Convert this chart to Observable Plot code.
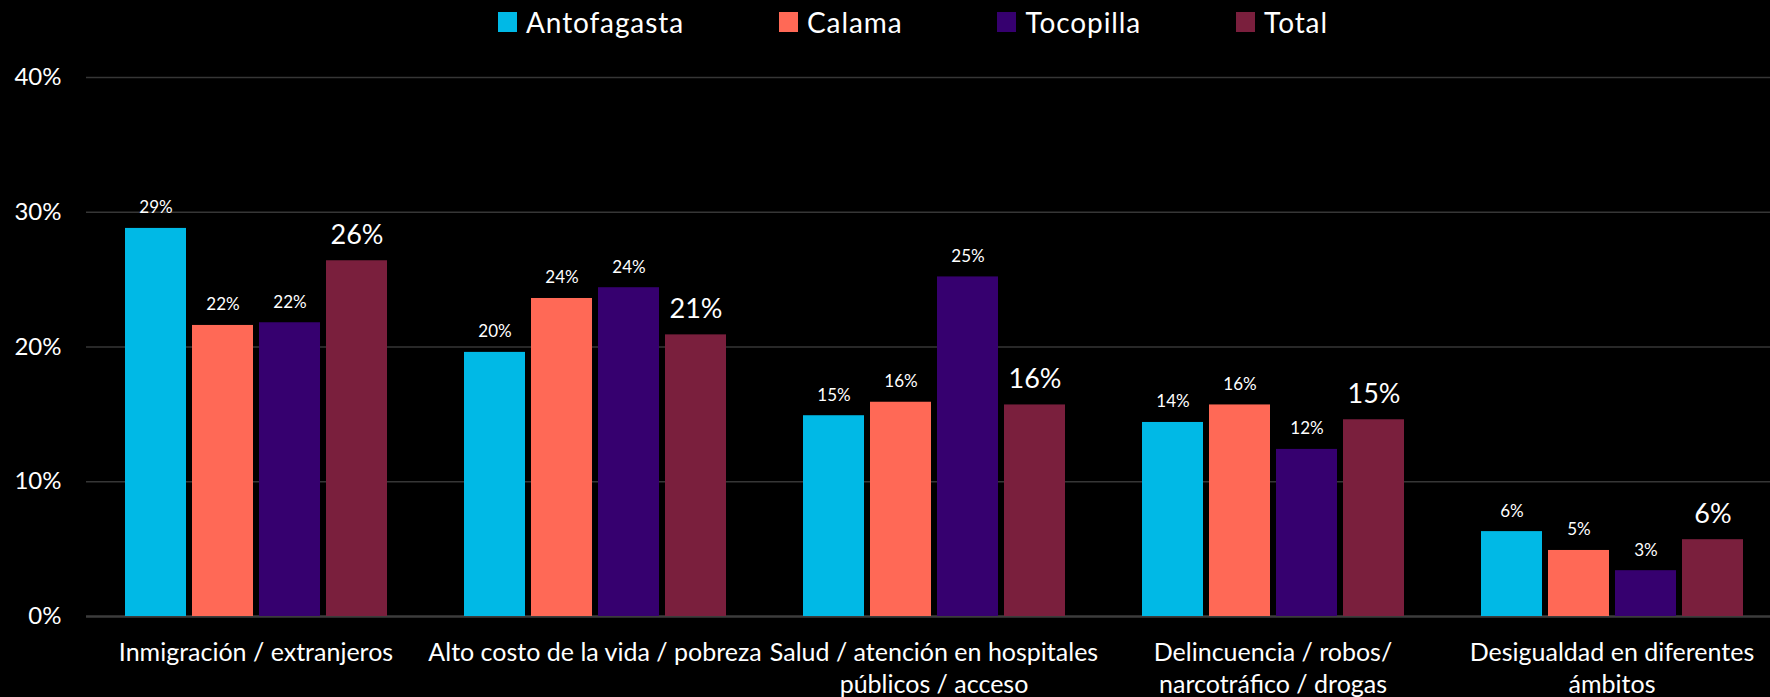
<!DOCTYPE html>
<html><head><meta charset="utf-8">
<script src="https://cdn.jsdelivr.net/npm/d3@7"></script>
<script src="https://cdn.jsdelivr.net/npm/@observablehq/plot@0.6"></script>
<style>
html,body{margin:0;padding:0;background:#000;width:1770px;height:697px;overflow:hidden;}
#legend{position:relative;height:50px;font-family:Lato, sans-serif;color:#fff;font-size:28px;letter-spacing:0.9px;}
#legend .row{position:absolute;left:498px;top:4px;display:flex;gap:95px;}
#legend .item{display:flex;align-items:center;line-height:36px;}
#legend .sw{width:19px;height:20px;margin-right:9px;}
#chart{width:1770px;overflow:hidden;}
#chart svg{max-width:none !important;}
</style></head>
<body><div id="legend"><div class="row"></div></div><div id="chart"></div>
<script>
const categories = ["Inmigración", "Alto costo", "Salud", "Delincuencia", "Desigualdad"];
const tickLabels = [
  "Inmigración / extranjeros",
  "Alto costo de la vida / pobreza",
  "Salud / atención en hospitales\npúblicos / acceso",
  "Delincuencia / robos/\nnarcotráfico / drogas",
  "Desigualdad en diferentes\námbitos"
];
const series = ["Antofagasta", "Calama", "Tocopilla", "Total"];
const colors = ["#00B9E6", "#FF6956", "#36006F", "#7A1F3D"];
const antofagasta = [28.8, 19.6, 14.9, 14.4, 6.3];
const calama      = [21.6, 23.6, 15.9, 15.7, 4.9];
const tocopilla   = [21.8, 24.4, 25.2, 12.4, 3.4];
const total       = [26.4, 20.9, 15.7, 14.6, 5.7];
const yTicks = [0, 10, 20, 30, 40];

const seriesValues = [antofagasta, calama, tocopilla, total];
const rows = [];
categories.forEach((c, i) => series.forEach((s, j) => rows.push({cat: c, series: s, value: seriesValues[j][i]})));

// legend
const row = document.querySelector("#legend .row");
series.forEach((s, j) => {
  const it = document.createElement("div");
  it.className = "item";
  const sw = document.createElement("span");
  sw.className = "sw";
  sw.style.background = colors[j];
  it.appendChild(sw);
  it.appendChild(document.createTextNode(s));
  row.appendChild(it);
});

const chart = Plot.plot({
  width: 1790, height: 647,
  marginLeft: 86, marginRight: 9, marginTop: 27, marginBottom: 81,
  style: {background: "#000", color: "#fff", fontFamily: "Lato, sans-serif", overflow: "visible", maxWidth: "none"},
  fx: {domain: categories, padding: 0, label: null},
  x: {domain: series, paddingInner: 0.094, paddingOuter: 0.566, axis: null},
  y: {domain: [0, 40], label: null},
  color: {domain: series, range: colors},
  marks: [
    Plot.gridY(yTicks.filter(d => d > 0), {stroke: "#363636", strokeOpacity: 1, strokeWidth: 1.5}),
    Plot.ruleY([0], {stroke: "#3c3c3c", strokeWidth: 2.5}),
    Plot.barY(rows, {fx: "cat", x: "series", y: "value", fill: "series"}),
    Plot.text(rows.filter(d => d.series !== "Total"), {
      fx: "cat", x: "series", y: "value", text: d => Math.round(d.value) + "%",
      lineAnchor: "bottom", dy: -15, fill: "#fff", fontSize: 17
    }),
    Plot.text(rows.filter(d => d.series === "Total"), {
      fx: "cat", x: "series", y: "value", text: d => Math.round(d.value) + "%",
      lineAnchor: "bottom", dy: -17, fill: "#fff", fontSize: 27
    }),
    Plot.axisY(yTicks, {tickSize: 0, tickPadding: 25, fontSize: 24, tickFormat: d => d + "%", label: null}),
    Plot.axisFx({anchor: "bottom", tickSize: 0, tickPadding: 21, fontSize: 25, lineHeight: 1.3,
      tickFormat: d => tickLabels[categories.indexOf(d)], label: null})
  ]
});
document.getElementById("chart").appendChild(chart);
</script>
</body></html>
